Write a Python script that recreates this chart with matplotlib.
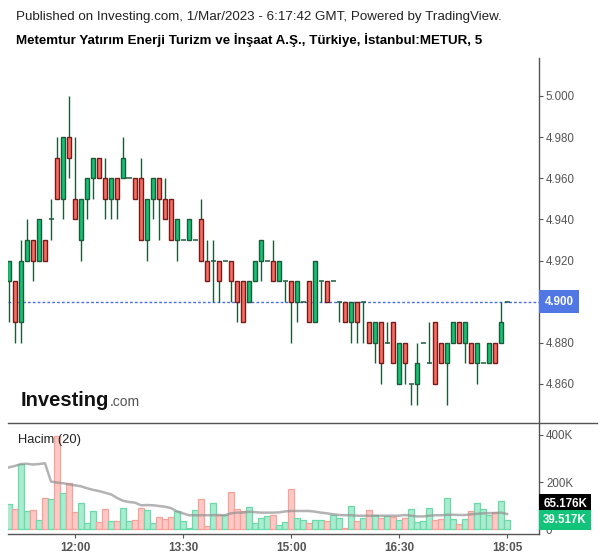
import matplotlib
matplotlib.use("Agg")
import matplotlib.pyplot as plt
from matplotlib.lines import Line2D

plt.rcParams["font.family"] = ["Liberation Sans", "DejaVu Sans"]

# 5-minute bars, METUR, 11:05 .. 18:05
opens = [4.91, 4.91, 4.89, 4.92, 4.93, 4.92, 4.93, 4.94, 4.97, 4.95,
         4.98, 4.95, 4.93, 4.95, 4.96, 4.97, 4.96, 4.95, 4.96, 4.96,
         4.96, 4.96, 4.96, 4.93, 4.95, 4.96, 4.95, 4.95, 4.93, 4.93,
         4.93, 4.93, 4.94, 4.92, 4.92, 4.92, 4.92, 4.92, 4.91, 4.91,
         4.90, 4.91, 4.92, 4.92, 4.92, 4.91, 4.91, 4.91, 4.90, 4.90,
         4.91, 4.89, 4.91, 4.91, 4.91, 4.90, 4.90, 4.89, 4.90, 4.90,
         4.89, 4.88, 4.89, 4.88, 4.89, 4.86, 4.88, 4.86, 4.86, 4.88,
         4.87, 4.89, 4.88, 4.87, 4.88, 4.89, 4.88, 4.88, 4.87, 4.87,
         4.87, 4.88, 4.88, 4.90]
highs = [4.92, 4.91, 4.93, 4.94, 4.93, 4.94, 4.93, 4.95, 4.98, 4.98,
         5.00, 4.98, 4.95, 4.96, 4.97, 4.97, 4.97, 4.96, 4.96, 4.98,
         4.96, 4.96, 4.97, 4.95, 4.96, 4.96, 4.96, 4.95, 4.94, 4.93,
         4.94, 4.93, 4.95, 4.93, 4.93, 4.92, 4.92, 4.92, 4.91, 4.91,
         4.91, 4.92, 4.93, 4.92, 4.93, 4.92, 4.91, 4.91, 4.91, 4.90,
         4.91, 4.92, 4.91, 4.91, 4.91, 4.90, 4.90, 4.90, 4.90, 4.90,
         4.89, 4.89, 4.89, 4.89, 4.89, 4.88, 4.88, 4.86, 4.88, 4.88,
         4.89, 4.89, 4.88, 4.88, 4.89, 4.89, 4.89, 4.88, 4.88, 4.87,
         4.88, 4.88, 4.90, 4.90]
lows = [4.89, 4.88, 4.88, 4.92, 4.91, 4.92, 4.92, 4.93, 4.95, 4.94,
        4.96, 4.94, 4.92, 4.94, 4.95, 4.96, 4.94, 4.94, 4.94, 4.96,
        4.96, 4.95, 4.93, 4.92, 4.94, 4.93, 4.94, 4.93, 4.92, 4.93,
        4.93, 4.93, 4.92, 4.91, 4.90, 4.90, 4.92, 4.90, 4.89, 4.89,
        4.90, 4.91, 4.91, 4.92, 4.91, 4.91, 4.90, 4.88, 4.89, 4.90,
        4.89, 4.89, 4.90, 4.90, 4.91, 4.89, 4.89, 4.88, 4.88, 4.88,
        4.88, 4.87, 4.86, 4.88, 4.87, 4.86, 4.86, 4.85, 4.85, 4.88,
        4.87, 4.86, 4.87, 4.85, 4.88, 4.88, 4.87, 4.87, 4.86, 4.87,
        4.87, 4.87, 4.88, 4.90]
closes = [4.92, 4.89, 4.92, 4.93, 4.92, 4.94, 4.92, 4.94, 4.95, 4.98,
          4.97, 4.94, 4.95, 4.96, 4.97, 4.96, 4.95, 4.96, 4.95, 4.97,
          4.96, 4.95, 4.93, 4.95, 4.96, 4.95, 4.94, 4.93, 4.94, 4.93,
          4.94, 4.93, 4.92, 4.91, 4.92, 4.91, 4.92, 4.91, 4.90, 4.89,
          4.91, 4.92, 4.93, 4.92, 4.91, 4.92, 4.91, 4.90, 4.91, 4.90,
          4.89, 4.92, 4.91, 4.90, 4.91, 4.90, 4.89, 4.90, 4.89, 4.90,
          4.88, 4.89, 4.87, 4.88, 4.87, 4.88, 4.87, 4.86, 4.87, 4.88,
          4.87, 4.86, 4.87, 4.88, 4.89, 4.88, 4.89, 4.87, 4.88, 4.87,
          4.88, 4.87, 4.89, 4.90]
# volume in thousands and its 20-bar average
volume_k = [108, 86, 274, 79, 82, 40, 133, 128, 394, 155,
            198, 73, 111, 28, 77, 32, 86, 36, 36, 90,
            36, 40, 90, 82, 28, 52, 44, 52, 79, 36,
            6, 82, 128, 14, 111, 60, 60, 160, 86, 79,
            94, 28, 48, 57, 60, 18, 32, 171, 48, 40,
            28, 40, 40, 36, 63, 48, 6, 99, 36, 48,
            82, 63, 48, 57, 52, 40, 48, 86, 32, 36,
            90, 40, 44, 133, 44, 22, 44, 79, 113, 86,
            60, 75, 121, 39.517]
vol_ma_k = [262, 268, 276, 277, 274, 276, 279, 202, 198, 195,
            190, 186, 182, 174, 167, 162, 155, 148, 133, 121,
            116, 113, 102, 103, 102, 99, 96, 90, 76, 68,
            60, 60, 60, 60, 60, 61, 60, 68, 71, 71,
            75, 73, 71, 71, 71, 72, 76, 78, 78, 78,
            78, 75, 71, 68, 64, 61, 60, 60, 58, 58,
            58, 58, 58, 58, 58, 58, 61, 58, 55, 55,
            58, 60, 60, 62, 62, 61, 61, 64, 66, 68,
            69, 69, 71, 65.176]
time_ticks = [11, 29, 47, 65, 83]
time_labels = ["12:00", "13:30", "15:00", "16:30", "18:05"]
price_ticks = [4.86, 4.88, 4.90, 4.92, 4.94, 4.96, 4.98, 5.00]
last_price = 4.90

UP, DOWN = "#10c573", "#fb6b5e"
UP_EDGE, DOWN_EDGE = "#1d5a3a", "#731c1c"
WICK = "#1d5a3a"
AXIS = "#555555"

W, H = 600, 558
fig = plt.figure(figsize=(W / 100, H / 100), dpi=100)


def px_axes(x0, y0, x1, y1):
    # pixel box (top-left origin) -> axes
    return fig.add_axes([x0 / W, 1 - y1 / H, (x1 - x0) / W, (y1 - y0) / H])


def scale_tag(axis, y, text, fc, pad):
    # coloured value tag sitting on the right scale
    axis.annotate(text, xy=(1.0, y), xycoords=("axes fraction", "data"),
                  xytext=(pad, 0), textcoords="offset points",
                  ha="left", va="center", color="white", fontsize=8.3,
                  fontweight="bold", annotation_clip=False, zorder=6,
                  bbox=dict(boxstyle=f"square,pad={pad / 8.3:.2f}", fc=fc, ec="none"))


ax = px_axes(8, 58, 539, 423)
axv = px_axes(8, 423, 539, 534)
xlim = (-0.17, 88.33)

# -- candles --
n = len(opens)
xs = list(range(n))
for i in xs:
    o, h, l, c = opens[i], highs[i], lows[i], closes[i]
    ax.vlines(i, l, h, color=WICK, lw=1.0, zorder=2)
    if abs(c - o) < 1e-9:
        ax.hlines(o, i - 0.42, i + 0.42, color=WICK, lw=1.1, zorder=3)
    else:
        up = c > o
        ax.bar(i, abs(c - o), bottom=min(o, c), width=0.62,
               color=UP if up else DOWN, edgecolor=UP_EDGE if up else DOWN_EDGE,
               linewidth=1.0, zorder=3)

ax.axhline(last_price, color="#4a6ee0", lw=1.0, ls=(0, (2, 1.5)), zorder=1)
ax.set_xlim(*xlim)
ax.set_ylim(4.84104, 5.01847)
for s in ("top", "left", "bottom"):
    ax.spines[s].set_visible(False)
ax.spines["right"].set_color(AXIS)
ax.spines["right"].set_linewidth(1.0)
ax.set_xticks([])
ax.yaxis.tick_right()
ax.set_yticks(price_ticks)
# the 4.900 level is shown by the tag instead
ax.set_yticklabels(["" if abs(p - last_price) < 1e-9 else f"{p:.3f}"
                    for p in price_ticks])
ax.tick_params(axis="y", length=3, width=0.8, color=AXIS, labelcolor=AXIS,
               labelsize=8.3, pad=2)
scale_tag(ax, last_price, "4.900", "#5077e4", 4)

# -- volume --
vcols = ["#a9ecd0" if closes[i] >= opens[i] else "#ffc8c4" for i in xs]
vedges = ["#6bdaa9" if closes[i] >= opens[i] else "#f6a19a" for i in xs]
axv.bar(xs, [v * 1000 for v in volume_k], width=0.88, color=vcols,
        edgecolor=vedges, linewidth=0.9, zorder=2)
axv.plot(xs, [v * 1000 for v in vol_ma_k], color="#939393", lw=1.8,
         alpha=0.7, zorder=3)
axv.set_xlim(*xlim)
axv.set_ylim(-19100, 449000)
axv.spines["top"].set_visible(False)
axv.spines["left"].set_visible(False)
for s in ("right", "bottom"):
    axv.spines[s].set_color(AXIS)
    axv.spines[s].set_linewidth(1.0)
axv.yaxis.tick_right()
axv.set_yticks([0, 200000, 400000])
axv.set_yticklabels(["0", "200K", "400K"])
axv.tick_params(axis="y", length=3, width=0.8, color=AXIS, labelcolor=AXIS,
                labelsize=8.3, pad=2)
axv.set_xticks(time_ticks)
axv.set_xticklabels(time_labels, fontweight="bold")
axv.tick_params(axis="x", length=3, width=0.8, color=AXIS, labelcolor=AXIS,
                labelsize=8.5, pad=3)
# tags placed where the scale shows them (stacked, not at their exact level)
scale_tag(axv, 108000, "65.176K", "black", 3)
scale_tag(axv, 39517, "39.517K", "#12c47a", 3)
axv.text(10 / 531, 0.85, "Hacim (20)", transform=axv.transAxes, ha="left",
         va="center", fontsize=9.3, color="#222222")

# pane separator runs under the scale too
fig.add_artist(Line2D([8 / W, 597 / W], [1 - 423 / H] * 2, color=AXIS, lw=1.0))

# -- header + logo --
fig.text(16 / W, 1 - 17 / H, "Published on Investing.com, 1/Mar/2023 - 6:17:42 GMT, "
         "Powered by TradingView.", ha="left", va="center", fontsize=9.6,
         color="#222222")
fig.text(16 / W, 1 - 40 / H, "Metemtur Yatırım Enerji Turizm ve İnşaat A.Ş., "
         "Türkiye, İstanbul:METUR, 5", ha="left", va="center", fontsize=9.6,
         fontweight="bold", color="black")
fig.text(21 / W, 1 - 406 / H, "Investing", ha="left", va="baseline",
         fontsize=14.5, fontweight="bold", color="#111111")
fig.text(110 / W, 1 - 406 / H, ".com", ha="left", va="baseline",
         fontsize=10, color="#555555")

fig.savefig("out.png", dpi=100)
